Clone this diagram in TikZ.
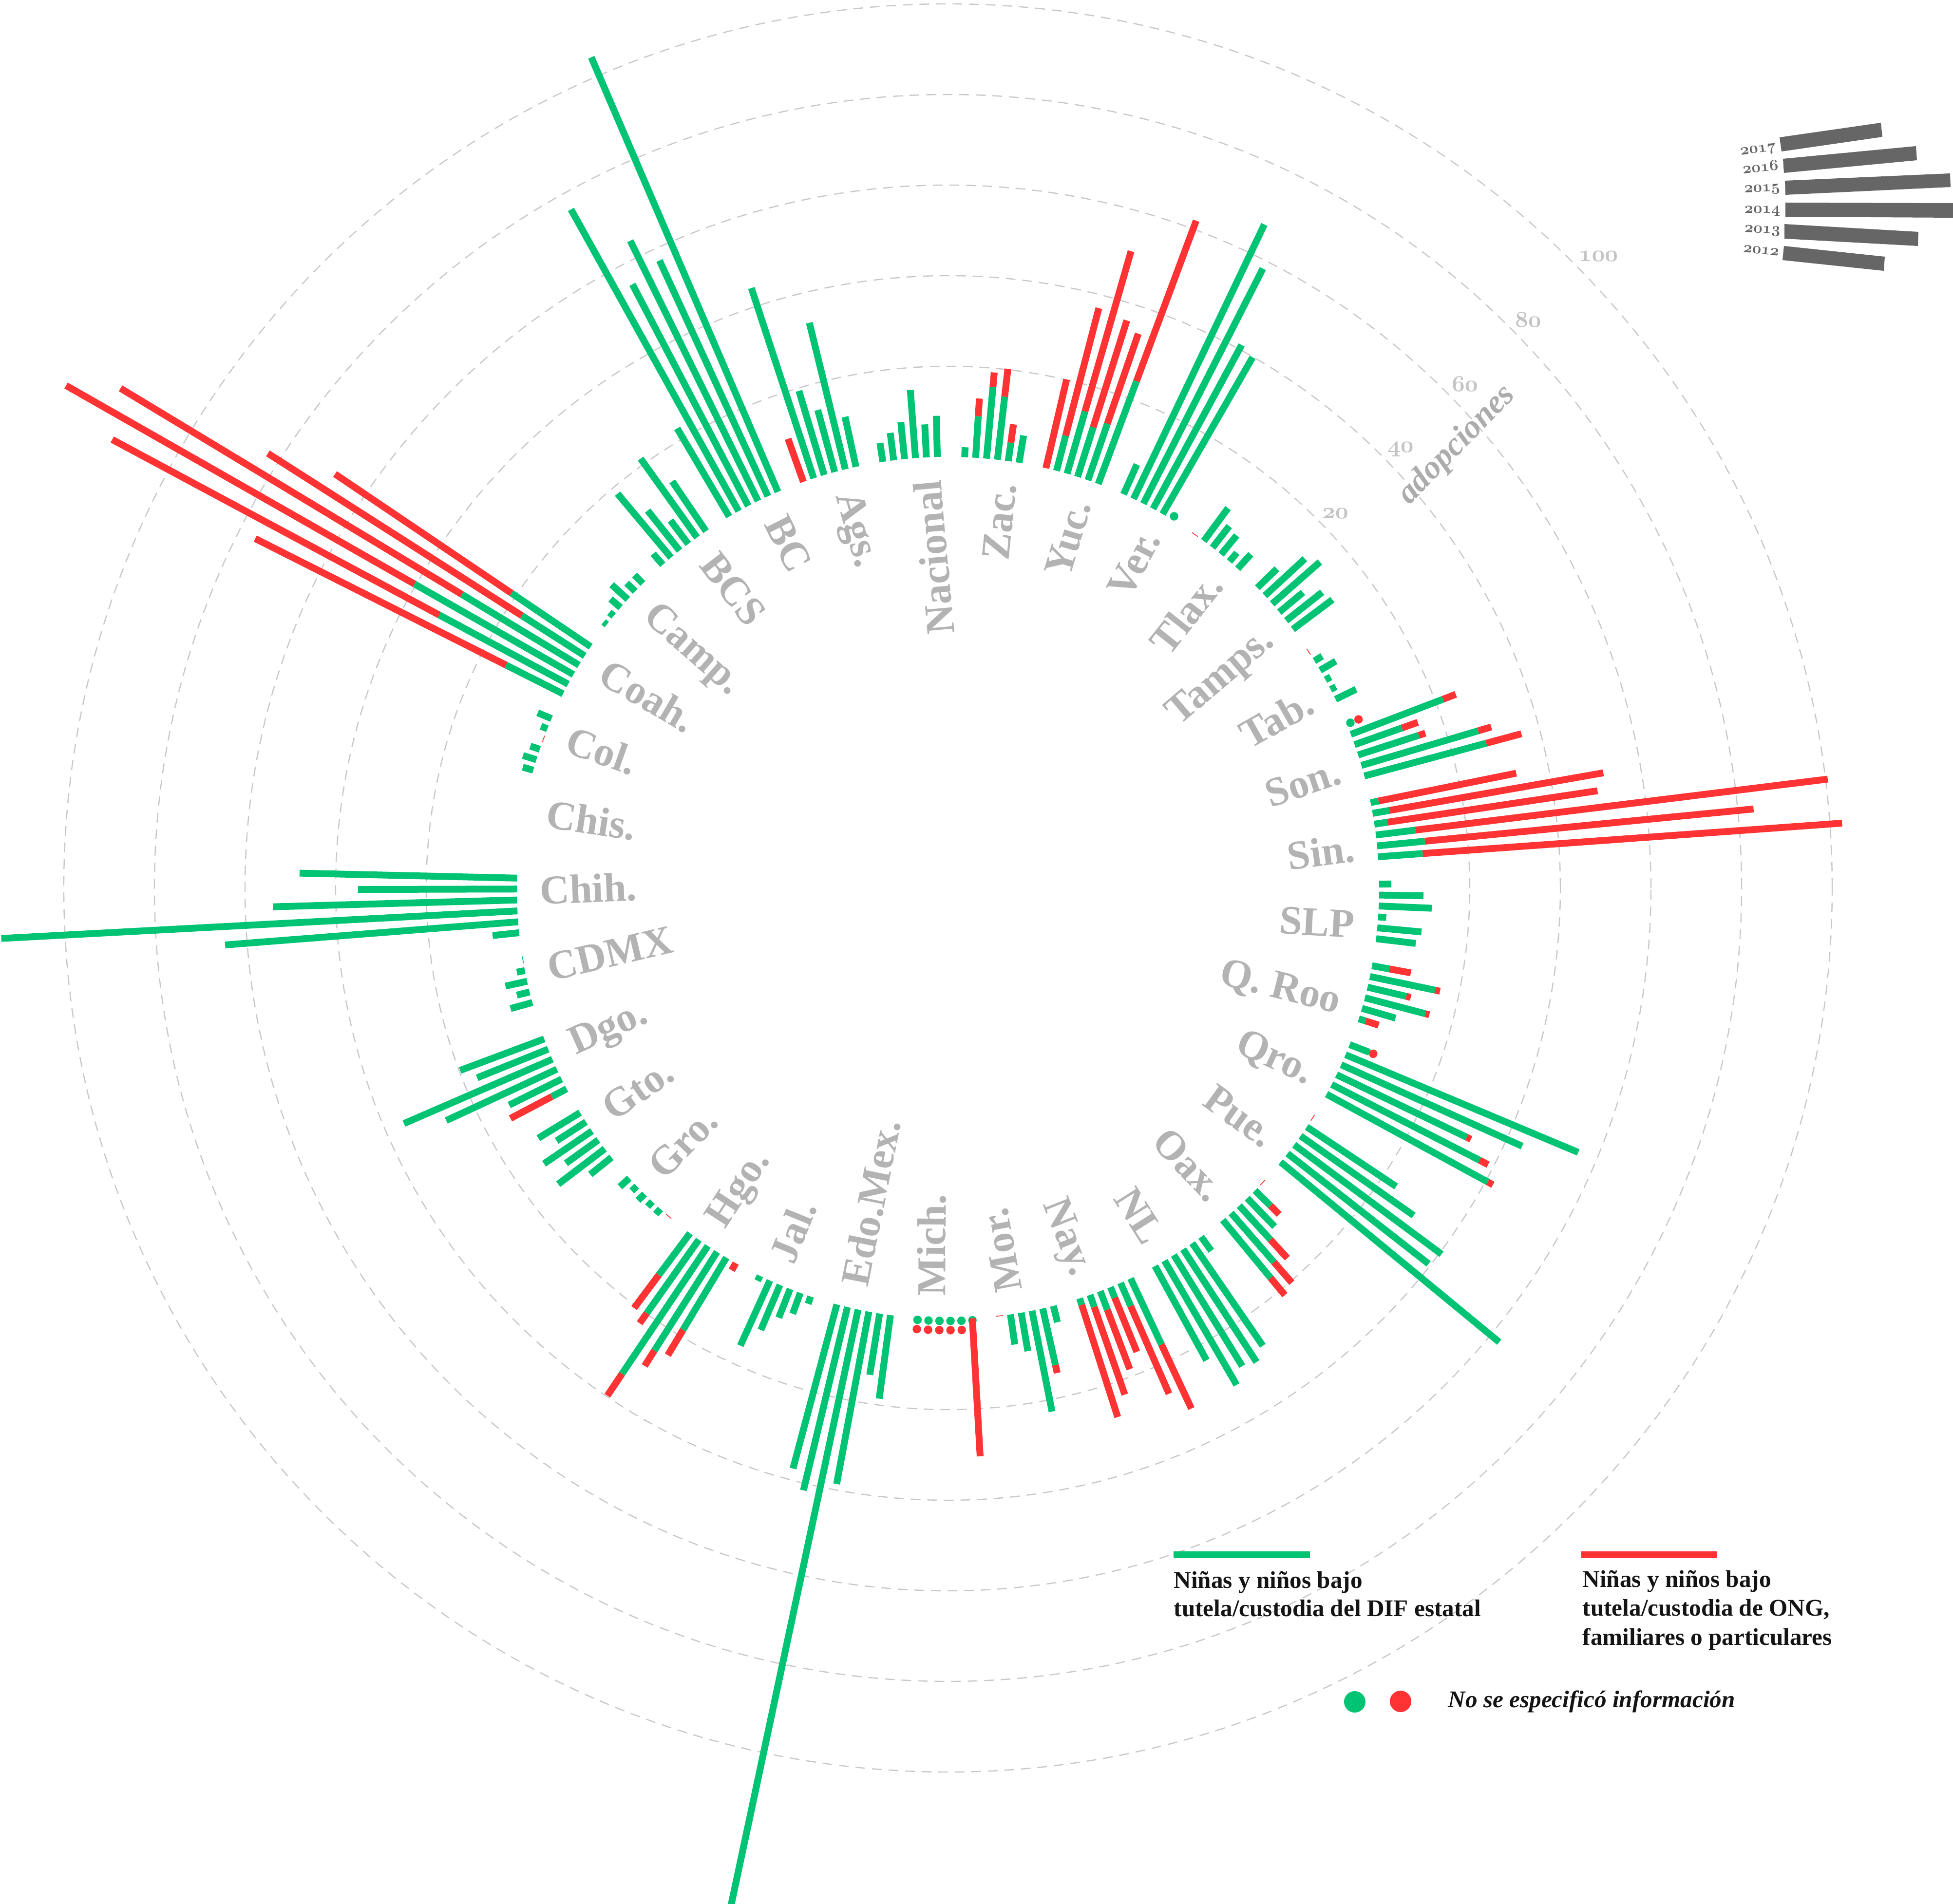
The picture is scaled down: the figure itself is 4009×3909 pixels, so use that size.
\RequirePackage{fix-cm}
\documentclass[tikz,border=0pt]{standalone}
\usepackage{fontspec}
\setmainfont{Liberation Serif}
\definecolor{gcol}{RGB}{0,196,115}
\definecolor{rcol}{RGB}{255,51,51}
\definecolor{lgray}{RGB}{179,179,179}
\definecolor{cgray}{RGB}{200,200,200}
\definecolor{ngray}{RGB}{196,196,196}
\definecolor{agray}{RGB}{172,172,172}
\definecolor{dgray}{RGB}{102,102,102}
\definecolor{ink}{RGB}{20,20,20}
\newcommand\oldnum{\fontencoding{OML}\fontfamily{cmm}\fontseries{b}\fontshape{it}\selectfont}
\newcommand\barang[2]{\pgfmathsetmacro\bAng{90-((#1+0.5)*360/33+(#2-2.5)*1.4545+0.4)}}
\newcommand\mkbar[4]{\barang{#1}{#2}%
  \pgfmathsetmacro\bRg{885+9.3*#3}\pgfmathsetmacro\bRt{885+9.3*#4}%
  \ifdim #3pt>0pt \draw[gb] (\bAng:885) -- (\bAng:\bRg);\fi
  \ifdim #4pt>#3pt \draw[rb] (\bAng:\bRg) -- (\bAng:\bRt);\fi}
\newcommand\gdot[3]{\barang{#1}{#2}\fill[gcol] (\bAng:#3) circle[radius=8.7];}
\newcommand\rdot[3]{\barang{#1}{#2}\fill[rcol] (\bAng:#3) circle[radius=8.7];}
\newcommand\zmark[3][rcol]{\barang{#2}{#3}%
  \pgfmathsetmacro\bA{\bAng-0.46}\pgfmathsetmacro\bB{\bAng+0.46}%
  \draw[#1,line width=0.4pt] (\bA:885) -- (\bB:885);}
\newcommand\labR[3]{\pgfmathsetmacro\lAng{90-((#2+0.5)*360/33+0.4)}%
  \node[lbl,rotate=\lAng,anchor=north east] (#1) at (\lAng:838) {#3};}
\newcommand\labL[3]{\pgfmathsetmacro\lAng{90-((#2+0.5)*360/33+0.4)}%
  \node[lbl,rotate=\lAng+180,anchor=base west] (#1) at (\lAng:838) {#3};}
\begin{document}
\begin{tikzpicture}[x=0.25pt,y=0.25pt,
  gb/.style={draw=gcol,line width=3.5pt},
  rb/.style={draw=rcol,line width=3.5pt},
  ring/.style={draw=cgray,line width=0.6pt,dash pattern=on 5pt off 3.5pt},
  lbl/.style={text=lgray,inner sep=0pt,font=\bfseries\fontsize{21}{24}\selectfont},
  num/.style={text=ngray,inner sep=0pt,font=\fontsize{11.7}{13}\oldnum},
  yr/.style={text=dgray,inner sep=0pt,font=\fontsize{8}{9}\oldnum,anchor=base east},
  leg/.style={text=ink,inner sep=0pt,font=\bfseries\fontsize{12.3}{14}\selectfont,anchor=base west}]
\useasboundingbox (-1946,-2086) rectangle (2063,1823);
\clip (-1946,-2086) rectangle (2063,1823);
\fill[white] (-1946,-2086) rectangle (2063,1823);
% rings
\foreach \k in {1,...,5}{\draw[ring] (0,0) circle[radius={885+186*\k}];}
% Zac 0
\foreach \vj/\vg/\vt in {0/2.2/2.2,1/9.2/13.1,2/15.9/19.1,3/14.0/20.2,4/4.1/8.2,5/6.1/6.1}{\mkbar{0}{\vj}{\vg}{\vt}}
% Yuc 1
\foreach \vj/\vg/\vt in {0/0/20.1,1/8.0/37.1,2/14.3/51.1,3/11.5/36.2,4/13.2/34.2,5/24.2/62.0}{\mkbar{1}{\vj}{\vg}{\vt}}
% Ver 2
\foreach \vj/\vg in {0/7.2,1/67.1,2/58.2,3/41.1,4/39.9}{\mkbar{2}{\vj}{\vg}{\vg}}
\gdot{2}{5}{893}
% Tlax 3
\zmark{3}{0}
\foreach \vj/\vg in {1/9.0,2/6.0,3/5.4,4/2.5,5/4.3}{\mkbar{3}{\vj}{\vg}{\vg}}
% Tamps 4
\foreach \vj/\vg in {0/6.0,1/12.0,2/14.0,3/6.8,4/10.1,5/10.9}{\mkbar{4}{\vj}{\vg}{\vg}}
% Tab 5
\zmark{5}{0}
\foreach \vj/\vg in {1/2.0,2/4.0,3/1.3,4/1.3,5/5.0}{\mkbar{5}{\vj}{\vg}{\vg}}
% Son 6
\gdot{6}{0}{893}\rdot{6}{0}{911}
\foreach \vj/\vg/\vt in {1/21.8/24.8,2/11.1/14.8,3/14.1/15.6,4/26.9/29.9,5/27.9/35.9}{\mkbar{6}{\vj}{\vg}{\vt}}
% Sin 7
\foreach \vj/\vg/\vt in {0/1.8/32.8,1/3.8/51.7,2/2.9/49.8,3/8.8/100.5,4/10.6/83.5,5/9.9/102.7}{\mkbar{7}{\vj}{\vg}{\vt}}
% SLP 8
\foreach \vj/\vg in {0/2.7,1/9.8,2/11.7,3/1.8,4/9.8,5/8.8}{\mkbar{8}{\vj}{\vg}{\vg}}
% Q Roo 9
\foreach \vj/\vg/\vt in {0/3.9/8.7,1/14.7/15.8,2/8.8/9.8,3/13.8/14.7,4/7.7/7.7,5/1.6/4.6}{\mkbar{9}{\vj}{\vg}{\vt}}
% Qro 10
\foreach \vj/\vg/\vt in {0/4.7/4.7,1/55.7/55.7,2/43.8/43.8,3/31.9/32.9,4/36.7/38.8,5/40.5/41.8}{\mkbar{10}{\vj}{\vg}{\vt}}
\rdot{10}{0}{937}
% Pue 11
\zmark{11}{0}
\foreach \vj/\vg in {1/23.7,2/30.5,3/40.5,4/39.5,5/62.5}{\mkbar{11}{\vj}{\vg}{\vg}}
% Oax 12
\zmark{12}{0}
\foreach \vj/\vg/\vt in {1/4.8/7.5,2/8.7/8.7,3/10.2/15.7,4/14.4/20.4,5/16.6/21.5}{\mkbar{12}{\vj}{\vg}{\vt}}
% NL 13
\foreach \vj/\vg in {0/3.8,1/27.5,2/29.7,3/28.8,4/31.7,5/23.7}{\mkbar{13}{\vj}{\vg}{\vg}}
% Nay 14
\foreach \vj/\vg/\vt in {0/16.1/31.7,1/5.6/26.7,2/2.5/15.4,3/4.4/18.4,4/2.8/23.3,5/1.5/27.5}{\mkbar{14}{\vj}{\vg}{\vt}}
% Mor 15
\foreach \vj/\vg/\vt in {0/3.7/3.7,1/12.8/14.6,2/22.7/22.7,3/8.6/8.6,4/6.7/6.7}{\mkbar{15}{\vj}{\vg}{\vt}}
\zmark{15}{5}
% Mich 16
\gdot{16}{0}{889}\mkbar{16}{0}{0}{30.5}
\foreach \vj in {1,...,5}{\gdot{16}{\vj}{889}\rdot{16}{\vj}{908}}
% Edo.Mex 17
\foreach \vj/\vg in {0/18.6,1/13.7,2/38.7,3/150,4/41.6,5/37.5}{\mkbar{17}{\vj}{\vg}{\vg}}
% Jal 18
\foreach \vj/\vg in {0/1.7,1/4.9,2/6.8,3/10.8,4/15.8,5/1.2}{\mkbar{18}{\vj}{\vg}{\vg}}
% Hgo 19
\foreach \vj/\vg/\vt in {0/0/1.8,1/18.6/25.1,2/25.8/29.8,3/34.0/39.8,4/19.9/22.6,5/11.5/20.6}{\mkbar{19}{\vj}{\vg}{\vt}}
% Gro 20
\zmark{20}{0}
\foreach \vj/\vg in {1/1.5,2/1.5,3/2.0,4/1.5,5/2.8}{\mkbar{20}{\vj}{\vg}{\vg}}
% Gto 21
\foreach \vj/\vg in {0/6.0,1/12.9,2/8.8,3/12.8,4/7.7,5/10.8}{\mkbar{21}{\vj}{\vg}{\vg}}
% Dgo 22
\foreach \vj/\vg/\vt in {0/3.7/14.0,1/12.9/12.9,2/26.9/26.9,3/35.7/35.7,4/16.9/16.9,5/19.8/19.8}{\mkbar{22}{\vj}{\vg}{\vt}}
% CDMX 23
\foreach \vj/\vg in {1/5.0,2/2.9,3/4.9,4/1.8}{\mkbar{23}{\vj}{\vg}{\vg}}
\zmark[gcol]{23}{5}
% Chih 24
\foreach \vj/\vg in {0/5.9,1/64.9,2/114.1,3/53.9,4/35.1,5/48.0}{\mkbar{24}{\vj}{\vg}{\vg}}
% Col 26
\foreach \vj/\vg in {0/2.4,1/3.1,2/2.2,4/1.5,5/3.3}{\mkbar{26}{\vj}{\vg}{\vg}}
\zmark{26}{3}
% Coah 27
\foreach \vj/\vg/\vt in {0/14.1/76.1,1/32.3/114.2,2/40.4/128.9,3/30.2/118.2,4/16.5/83.0,5/21.1/68.1}{\mkbar{27}{\vj}{\vg}{\vt}}
% Camp 28
\foreach \vj/\vg in {0/0.9,1/1.2,2/2.9,3/4.8,4/2.6,5/2.6}{\mkbar{28}{\vj}{\vg}{\vg}}
% BCS 29
\foreach \vj/\vg in {0/3.2,1/18.4,2/11.3,3/6.5,4/21.4,5/13.3}{\mkbar{29}{\vj}{\vg}{\vg}}
% BC 30
\foreach \vj/\vg in {0/22.6,1/76.2,2/55.2,3/64.0,4/57.3,5/104.4}{\mkbar{30}{\vj}{\vg}{\vg}}
% Ags 31
\foreach \vj/\vg/\vt in {0/0/10.1,1/44.2/44.2,2/19.4/19.4,3/14.2/14.2,4/33.3/33.3,5/11.3/11.3}{\mkbar{31}{\vj}{\vg}{\vt}}
% Nacional 32
\foreach \vj/\vg in {0/4.2,1/6.1,2/8.2,3/15.1,4/7.3,5/9.1}{\mkbar{32}{\vj}{\vg}{\vg}}
% labels
\labR{l0}{0}{Zac.}\labR{l1}{1}{Yuc.}\labR{l2}{2}{Ver.}\labR{l3}{3}{Tlax.}
\labR{l4}{4}{Tamps.}\labR{l5}{5}{Tab.}\labR{l6}{6}{Son.}\labR{l7}{7}{Sin.}
\labR{l8}{8}{SLP}\labR{l9}{9}{Q. Roo}\labR{l10}{10}{Qro.}\labR{l11}{11}{Pue.}
\labR{l12}{12}{Oax.}\labR{l13}{13}{NL}\labR{l14}{14}{Nay.}
\labL{l15}{15}{Mor.}\labL{l16}{16}{Mich.}\labL{l17}{17}{Edo.Mex.}\labL{l18}{18}{Jal.}
\labL{l19}{19}{Hgo.}\labL{l20}{20}{Gro.}\labL{l21}{21}{Gto.}\labL{l22}{22}{Dgo.}
\labL{l23}{23}{CDMX}\labL{l24}{24}{Chih.}\labL{l25}{25}{Chis.}\labL{l26}{26}{Col.}
\labL{l27}{27}{Coah.}\labL{l28}{28}{Camp.}\labL{l29}{29}{BCS}\labL{l30}{30}{BC}
\labL{l31}{31}{Ags.}\labR{l32}{32}{Nacional}
% scale
\node[num] (n20) at (795,769) {20};
\node[num] (n40) at (929,900) {40};
\node[num] (n60) at (1061,1035) {60};
\node[num] (n80) at (1191,1167) {80};
\node[num] (n100) at (1335,1297) {100};
\node[text=agray,inner sep=0pt,font=\bfseries\itshape\fontsize{17}{20}\selectfont,rotate=45.7] (adop) at (1045,909) {adopciones};
% year legend
\fill[dgray] (1707,1541) -- (1915,1571) -- (1918,1542) -- (1711,1512) -- cycle;
\fill[dgray] (1714,1497) -- (1987,1523) -- (1989,1494) -- (1716,1468) -- cycle;
\fill[dgray] (1718,1452) -- (2057,1467) -- (2058,1439) -- (1719,1423) -- cycle;
\fill[dgray] (1719,1407) -- (2063,1406) -- (2063,1376) -- (1719,1378) -- cycle;
\fill[dgray] (1717,1363) -- (1992,1347) -- (1991,1318) -- (1717,1333) -- cycle;
\fill[dgray] (1716,1318) -- (1923,1296) -- (1921,1267) -- (1713,1289) -- cycle;
\node[yr,rotate=8] (y17) at (1701,1515) {2017};
\node[yr,rotate=5.5] (y16) at (1706,1474) {2016};
\node[yr,rotate=2.5] (y15) at (1709,1431) {2015};
\node[yr] (y14) at (1709,1385) {2014};
\node[yr,rotate=-3] (y13) at (1709,1343) {2013};
\node[yr,rotate=-5.5] (y12) at (1706,1298) {2012};
% bottom legend
\draw[gb] (463,-1369) -- (743,-1369);
\draw[rb] (1300,-1369) -- (1579,-1369);
\node[leg] (t1a) at (463,-1437) {Niñas y niños bajo};
\node[leg] (t1b) at (463,-1495) {tutela/custodia del DIF estatal};
\node[leg] (t2a) at (1302,-1435) {Niñas y niños bajo};
\node[leg] (t2b) at (1302,-1494) {tutela/custodia de ONG,};
\node[leg] (t2c) at (1302,-1554) {familiares o particulares};
\fill[gcol] (835,-1671) circle[radius=22];
\fill[rcol] (929,-1670) circle[radius=22];
\node[leg,font=\bfseries\itshape\fontsize{12.3}{14}\selectfont] (t3) at (1026,-1682) {No se especificó información};
\end{tikzpicture}
\end{document}
